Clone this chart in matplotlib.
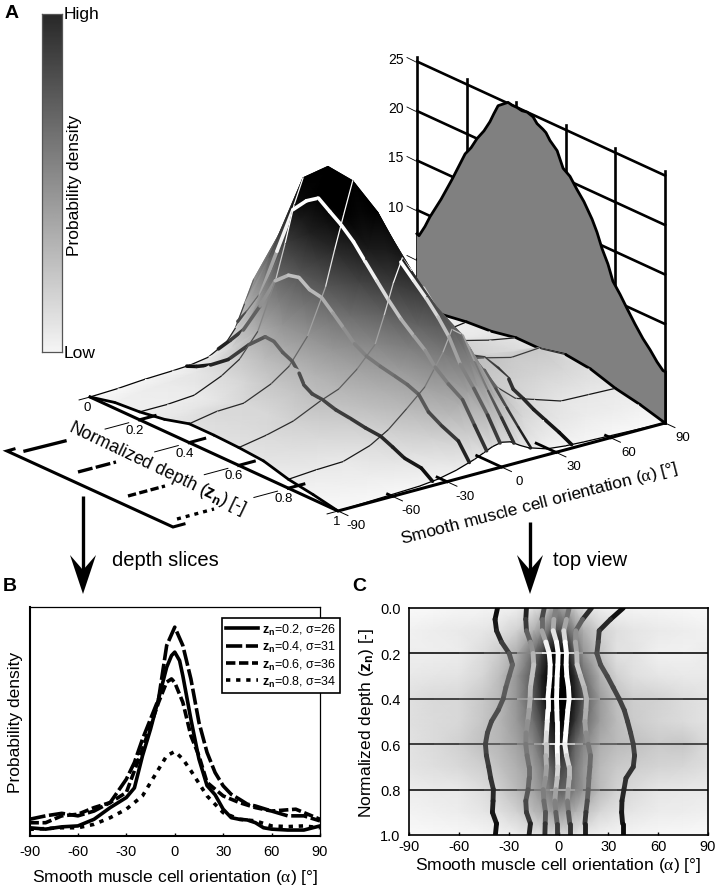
import numpy as np
import matplotlib
matplotlib.use("Agg")
import matplotlib.pyplot as plt
from matplotlib.collections import LineCollection
from matplotlib.colors import LinearSegmentedColormap, Normalize
from matplotlib.lines import Line2D

plt.rcParams["font.family"] = ["Liberation Sans", "DejaVu Sans"]
plt.rcParams["mathtext.fontset"] = "custom"
plt.rcParams["mathtext.rm"] = "Liberation Sans"
plt.rcParams["mathtext.bf"] = "Liberation Sans:bold"
plt.rcParams["mathtext.it"] = "Liberation Serif"

# ─── data ─────────────────────────────────────────────────────────────────────

depths = [0.0, 0.1, 0.2, 0.3, 0.4, 0.5, 0.6, 0.7, 0.8, 0.9, 1.0]
alphas = [-90, -75, -60, -45, -35, -25, -15, -10, -5, 0, 5, 10, 15, 25, 35, 45, 60, 75, 90]

# probability density surface, one row per depth
density = np.array([
    [0.0, 0.1, 0.3, 0.4, 0.5, 0.8, 1.8, 3.0, 5.2, 7.4, 6.0, 3.5, 2.0, 0.8, 0.5, 0.4, 0.3, 0.2, 0.0],
    [0.6, 0.9, 1.1, 1.4, 1.9, 3.0, 5.5, 7.5, 11.0, 13.0, 11.0, 8.0, 5.5, 3.0, 2.0, 1.5, 1.1, 0.9, 0.6],
    [0.8, 0.8, 1.0, 2.2, 3.4, 5.7, 10.5, 13.8, 17.5, 20.0, 17.0, 11.4, 7.5, 4.0, 1.8, 1.6, 0.7, 0.6, 1.0],
    [1.2, 1.4, 1.6, 2.7, 4.5, 7.5, 12.3, 16.0, 19.5, 22.3, 19.5, 15.0, 10.5, 5.5, 3.0, 2.0, 1.4, 1.2, 1.2],
    [1.9, 2.4, 2.5, 3.7, 5.0, 7.5, 12.0, 15.5, 18.8, 22.0, 20.0, 16.0, 12.0, 7.0, 4.2, 3.2, 2.9, 2.2, 1.7],
    [1.9, 2.3, 2.5, 3.9, 5.2, 7.2, 10.2, 13.3, 16.5, 20.0, 18.0, 14.5, 10.8, 6.8, 4.6, 3.4, 2.7, 2.3, 1.7],
    [1.8, 2.3, 3.0, 4.3, 5.0, 6.5, 8.5, 11.2, 14.2, 16.5, 15.0, 11.0, 8.6, 5.6, 4.6, 4.2, 3.5, 3.7, 2.3],
    [1.6, 2.0, 2.4, 3.2, 4.2, 5.5, 7.0, 9.0, 11.0, 13.8, 12.5, 9.7, 7.4, 4.8, 3.6, 3.2, 2.8, 2.6, 2.0],
    [0.9, 1.1, 1.2, 2.1, 3.2, 4.8, 6.5, 8.0, 9.5, 11.6, 10.9, 9.2, 7.4, 4.5, 2.9, 2.3, 1.4, 1.3, 1.2],
    [0.5, 0.7, 0.9, 1.4, 2.0, 3.0, 4.7, 5.6, 6.6, 7.0, 6.4, 5.3, 4.2, 2.6, 1.8, 1.4, 1.0, 0.9, 0.7],
    [0.0, 0.1, 0.2, 0.3, 0.5, 0.9, 1.5, 1.9, 2.3, 2.5, 2.3, 1.7, 1.2, 0.6, 0.4, 0.3, 0.2, 0.1, 0.0],
])

# depth profile drawn on the back wall
wall_depth = [0.0, 0.008, 0.032, 0.052, 0.097, 0.141, 0.194, 0.218, 0.242, 0.27, 0.294, 0.31,
              0.327, 0.347, 0.367, 0.383, 0.403, 0.423, 0.444, 0.468, 0.484, 0.508, 0.52, 0.536,
              0.565, 0.589, 0.617, 0.645, 0.673, 0.706, 0.726, 0.746, 0.77, 0.79, 0.819, 0.847,
              0.879, 0.911, 0.94, 0.968, 0.992, 1.0]
wall_value = [7.6, 7.5, 8.7, 9.9, 12.2, 14.7, 17.9, 18.8, 20.0, 21.1, 22.3, 23.3,
              24.3, 24.7, 25.1, 25.0, 25.0, 24.9, 25.0, 24.8, 24.3, 24.0, 23.8, 23.2,
              22.5, 21.0, 20.5, 19.5, 18.6, 17.2, 16.1, 14.7, 13.4, 11.9, 10.9, 9.8,
              8.6, 7.5, 6.7, 5.8, 5.2, 5.2]

# orientation lines: alpha along depth, same for panel A and panel C
line_depth = [0.0, 0.05, 0.1, 0.15, 0.2, 0.25, 0.3, 0.35, 0.4, 0.45, 0.5,
              0.55, 0.6, 0.65, 0.7, 0.75, 0.8, 0.85, 0.9, 0.95, 1.0]
line_alpha_1 = [-36.7, -38.2, -37.3, -34.3, -29.7, -27.7, -29.7, -31.7, -33.3, -36.3, -40.4,
                -42.8, -44.0, -43.4, -42.0, -40.8, -39.2, -39.4, -39.8, -37.3, -38.0]
line_alpha_2 = [-19.3, -19.7, -19.3, -16.9, -15.3, -14.9, -15.9, -16.9, -17.1, -17.7, -18.5,
                -19.5, -19.7, -18.9, -17.7, -17.7, -18.3, -19.7, -19.3, -16.9, -17.7]
line_alpha_3 = [-8.6, -10.0, -10.0, -7.6, -5.6, -5.0, -5.2, -5.8, -6.4, -6.4, -6.8,
                -7.2, -7.6, -7.6, -7.2, -7.8, -9.2, -8.8, -7.8, -8.0, -8.2]
line_alpha_4 = [-1.6, -2.8, -3.2, -1.2, -0.2, -0.4, -0.8, -1.0, -1.2, -1.0, -0.8,
                -0.8, -0.8, -0.6, -0.4, -0.8, -1.6, -2.2, -1.6, -0.8, -0.8]
line_alpha_5 = [6.4, 4.8, 3.2, 4.0, 4.8, 4.6, 5.0, 6.0, 6.4, 5.6, 5.0,
                4.4, 3.8, 4.8, 6.4, 6.4, 5.8, 5.4, 6.0, 6.8, 6.8]
line_alpha_6 = [19.9, 14.5, 10.4, 10.2, 11.0, 11.2, 13.3, 15.5, 16.9, 16.5, 15.9,
                16.5, 17.9, 19.3, 18.9, 18.3, 17.9, 17.3, 16.5, 15.9, 15.9]
line_alpha_7 = [39.0, 31.3, 24.5, 23.9, 23.1, 25.3, 29.3, 32.9, 36.5, 39.6, 41.6,
                43.4, 45.0, 45.8, 45.0, 40.6, 39.4, 38.2, 38.0, 38.6, 38.6]
orientation_lines = [line_alpha_1, line_alpha_2, line_alpha_3, line_alpha_4,
                     line_alpha_5, line_alpha_6, line_alpha_7]
# depth where each line comes out from behind the ridge in panel A
line_visible_from = [0.0, 0.0, 0.0, 0.6, 0.65, 0.6, 0.45]

# panel B slices
z02_x = [-90, -80, -70, -60, -50, -40, -30, -25, -20, -15, -10, -5, -2, 0, 3, 5, 10, 15, 20, 25,
         30, 35, 40, 45, 50, 55, 60, 70, 80, 90]
z02_y = [0.036, 0.03, 0.04, 0.044, 0.073, 0.124, 0.168, 0.21, 0.35, 0.467, 0.60, 0.737, 0.788,
         0.803, 0.766, 0.70, 0.51, 0.336, 0.22, 0.18, 0.117, 0.08, 0.073, 0.07, 0.058, 0.036,
         0.03, 0.026, 0.026, 0.044]
z04_x = [-90, -80, -70, -60, -50, -40, -30, -25, -20, -10, -5, 0, 5, 10, 15, 20, 25, 30, 35, 40,
         45, 50, 60, 70, 80, 90]
z04_y = [0.073, 0.088, 0.099, 0.088, 0.109, 0.146, 0.248, 0.321, 0.423, 0.599, 0.832, 0.912,
         0.832, 0.686, 0.496, 0.365, 0.277, 0.219, 0.182, 0.161, 0.139, 0.131, 0.109, 0.088,
         0.088, 0.066]
z06_x = [-90, -80, -70, -60, -50, -40, -30, -20, -10, -5, -2, 0, 5, 10, 15, 20, 30, 40, 50, 60,
         75, 90]
z06_y = [0.058, 0.058, 0.088, 0.095, 0.124, 0.146, 0.19, 0.38, 0.584, 0.672, 0.686, 0.67, 0.584,
         0.438, 0.35, 0.234, 0.175, 0.146, 0.124, 0.109, 0.117, 0.073]
z08_x = [-90, -70, -60, -50, -40, -30, -20, -10, -5, 0, 5, 10, 20, 30, 40, 50, 60, 70, 80, 90]
z08_y = [0.029, 0.036, 0.036, 0.051, 0.08, 0.117, 0.175, 0.292, 0.35, 0.369, 0.336, 0.285,
         0.175, 0.102, 0.073, 0.066, 0.044, 0.041, 0.044, 0.036]

angle_ticks = [-90, -60, -30, 0, 30, 60, 90]
depth_ticks = [0.2, 0.4, 0.6, 0.8]
wall_ticks = [5, 10, 15, 20, 25]
# how far each floor mark reaches under the depth = 1 edge
floor_marks = {-60: 0.02, -30: 0.04, 0: 0.10, 30: 0.08, 60: 0.02}

# ─── helpers ──────────────────────────────────────────────────────────────────

W, H = 719, 887
surface_cmap = LinearSegmentedColormap.from_list("surface", ["#f9f9f9", "#000000"])
surface_norm = Normalize(0, 18.5)
ink_norm = Normalize(0, 15.5)


def project(depth, alpha, z=0.0):
    """Oblique view of panel A, in figure pixels."""
    depth, alpha, z = np.asarray(depth), np.asarray(alpha), np.asarray(z)
    x = 90 + (alpha + 90) * 327 / 180 + depth * 248
    y = 398 - (alpha + 90) * 88 / 180 + depth * 114 - z * 9.9
    return x, y


def surface_height(depth, alpha):
    profile = [np.interp(alpha, alphas, row) for row in density]
    return np.interp(depth, depths, profile)


def ink(z):
    # lines are drawn inverted against the surface
    return plt.cm.gray(ink_norm(z))


def cell_zorder(depth, alpha):
    i = np.clip(np.searchsorted(depths, depth, side="right") - 1, 0, len(depths) - 2)
    j = np.clip(np.searchsorted(alphas, alpha, side="right") - 1, 0, len(alphas) - 2)
    return 10 + i * len(alphas) + (len(alphas) - 2 - j)


def panel_axes(fig, left, top, right, bottom):
    return fig.add_axes([left / W, 1 - bottom / H, (right - left) / W, (bottom - top) / H])


fig = plt.figure(figsize=(W / 100, H / 100), dpi=100)

# ─── Panel A ──────────────────────────────────────────────────────────────────

ax = fig.add_axes([0, 0, 1, 1])
ax.set_xlim(0, W)
ax.set_ylim(H, 0)
ax.axis("off")

# back wall
for v in wall_ticks:
    x, y = project([0, 1], [90, 90], [v, v])
    ax.plot(x, y, color="black", lw=1.9, zorder=2)
    ax.plot([x[0] - 10, x[0] - 2], [y[0] - 4, y[0]], color="black", lw=0.6, zorder=2)
    ax.text(x[0] - 21, y[0] - 3, str(v), ha="center", va="center", fontsize=10, zorder=2)
for d in [0.0] + depth_ticks + [1.0]:
    x, y = project([d, d], [90, 90], [0, 25.5])
    ax.plot(x, y, color="black", lw=1.9, zorder=2)
wx, wy = project(np.array(wall_depth), 90, np.array(wall_value))
bx, by = project(np.array(wall_depth), 90, 0)
ax.fill(np.r_[wx, bx[::-1]], np.r_[wy, by[::-1]], color="#808080", lw=0, zorder=3)
ax.plot(wx, wy, color="black", lw=2.0, zorder=4)
ex, ey = project([1, 1], [90, 90], [0, 5.2])
ax.plot(ex, ey, color="black", lw=1.9, zorder=4)

# surface, far cells first
Z = np.array(density)
for i in range(len(depths) - 1):
    for j in range(len(alphas) - 2, -1, -1):
        dd = np.array([[depths[i], depths[i]], [depths[i + 1], depths[i + 1]]])
        aa = np.array([[alphas[j], alphas[j + 1]], [alphas[j], alphas[j + 1]]])
        zz = Z[i:i + 2, j:j + 2]
        px, py = project(dd, aa, zz)
        ax.pcolormesh(px, py, zz, shading="gouraud", cmap=surface_cmap, norm=surface_norm,
                      zorder=cell_zorder(depths[i], alphas[j]), rasterized=True)

# constant depth lines
for d in [0.0] + depth_ticks + [1.0]:
    row = depths.index(d)
    px, py = project(d, np.array(alphas), Z[row])
    for j in range(len(alphas) - 1):
        zmid = (Z[row, j] + Z[row, j + 1]) / 2
        color = "black" if d == 1.0 else ink(zmid)
        order = cell_zorder(min(d, 0.99), alphas[j]) + 0.4
        ax.plot(px[j:j + 2], py[j:j + 2], color=color, lw=0.9, zorder=order,
                solid_capstyle="round")

# orientation lines over the surface
for curve, start in zip(orientation_lines, line_visible_from):
    hz = np.array([surface_height(d, a) for d, a in zip(line_depth, curve)])
    px, py = project(np.array(line_depth), np.array(curve), hz)
    for k in range(len(line_depth) - 1):
        if line_depth[k] < start:
            continue
        dm = (line_depth[k] + line_depth[k + 1]) / 2
        am = (curve[k] + curve[k + 1]) / 2
        ax.plot(px[k:k + 2], py[k:k + 2], color=ink((hz[k] + hz[k + 1]) / 2), lw=2.6,
                zorder=cell_zorder(dm, am) + 0.5, solid_capstyle="round")

# edges of the surface
for a in [-90, 90]:
    col = alphas.index(a)
    px, py = project(np.array(depths), a, Z[:, col])
    for i in range(len(depths) - 1):
        ax.plot(px[i:i + 2], py[i:i + 2], color="black", lw=2.0, solid_capstyle="round",
                zorder=cell_zorder(depths[i], a - 1 if a > 0 else a) + 0.6)

# floor frame
x, y = project([0, 1, 1], [-90, -90, 90])
ax.plot(x, y, color="black", lw=2.2, zorder=1001, solid_joinstyle="miter")
for d in depth_ticks:
    x, y = project([d, d], [-90, -81.5])
    ax.plot(x, y, color="black", lw=2.2, zorder=1001)
    x, y = project([d, d], [-109, -96])
    ax.plot(x, y, color="black", lw=0.7, zorder=1001)
    lx, ly = project(d, -90)
    ax.text(lx - 5, ly + 10, f"{d:.1f}", ha="center", va="center", fontsize=9.5, zorder=1001)
for a in angle_ticks:
    if a in floor_marks:
        x, y = project([1 - floor_marks[a], 1], [a, a])
        ax.plot(x, y, color="black", lw=2.0, zorder=1001)
    x, y = project([1, 1.04], [a, a])
    ax.plot(x, y, color="black", lw=0.7, zorder=1001)
    lx, ly = project(1, a)
    ax.text(lx + 18, ly + 14, str(a), ha="center", va="center", fontsize=9.5, zorder=1001)
x, y = project([0, 0], [-96, -90])
ax.plot(x, y, color="black", lw=0.7, zorder=1001)
x, y = project([1, 1], [-96, -90])
ax.plot(x, y, color="black", lw=0.7, zorder=1001)
lx, ly = project(0, -90)
ax.text(lx - 3, ly + 10, "0", ha="center", va="center", fontsize=9.5, zorder=1001)
lx, ly = project(1, -90)
ax.text(lx - 1, ly + 10, "1", ha="center", va="center", fontsize=9.5, zorder=1001)

ax.text(157, 468, r"Normalized depth ($\mathbf{z_n}$) [-]", rotation=-25.5, ha="center",
        va="center", rotation_mode="anchor", fontsize=12.8, zorder=1001)
ax.text(539, 504, r"Smooth muscle cell orientation ($\alpha$) [°]", rotation=14.5, ha="center",
        va="center", rotation_mode="anchor", fontsize=12.6, zorder=1001)

# depth slice key
ax.plot([173 + 11, 173, 7, 14], [525, 528, 452, 450], color="black", lw=2.2, zorder=1001,
        solid_joinstyle="miter")
ax.plot([25, 65], [452, 442], color="black", lw=2.4, zorder=1001)
ax.plot([78, 116], [473, 463], color="black", lw=2.4, ls=(0, (4.5, 1)), zorder=1001)
ax.plot([128, 165], [497, 487], color="black", lw=2.4, ls=(0, (2.5, 1)), zorder=1001)
ax.plot([177, 214], [520, 510], color="black", lw=2.4, ls=(0, (1.2, 1.5)), zorder=1001)

# arrows
for xc, y0 in [(83, 497), (530, 523)]:
    ax.plot([xc, xc], [y0, 575], color="black", lw=2.4, zorder=1001, solid_capstyle="butt")
    ax.fill([xc - 13, xc, xc + 13, xc], [556, 571, 556, 595], color="black", lw=0, zorder=1001)
ax.text(165, 561, "depth slices", ha="center", va="center", fontsize=14.5)
ax.text(590, 561, "top view", ha="center", va="center", fontsize=14.5)

# colour scale
cax = panel_axes(fig, 42, 15, 62, 353)
cax.imshow(np.linspace(0.16, 0.96, 256)[:, None], cmap="gray", vmin=0, vmax=1, aspect="auto")
cax.set_xticks([])
cax.set_yticks([])
for s in cax.spines.values():
    s.set_color("#555555")
    s.set_linewidth(0.9)
ax.text(64, 15, "High", ha="left", va="center", fontsize=12.5)
ax.text(64, 354, "Low", ha="left", va="center", fontsize=12.5)
ax.text(74, 185, "Probability density", rotation=90, ha="center", va="center", fontsize=12.5)

ax.text(5, 13, "A", ha="left", va="center", fontsize=14, fontweight="bold")
ax.text(3, 587, "B", ha="left", va="center", fontsize=14, fontweight="bold")
ax.text(352, 587, "C", ha="left", va="center", fontsize=14, fontweight="bold")

# ─── Panel B ──────────────────────────────────────────────────────────────────

ax_b = panel_axes(fig, 29.5, 608, 320, 837)
ax_b.set_xlim(-90, 90)
ax_b.set_ylim(0, 1)
ax_b.plot(z02_x, z02_y, color="black", lw=2.6)
ax_b.plot(z04_x, z04_y, color="black", lw=2.6, ls=(0, (4.5, 1)))
ax_b.plot(z06_x, z06_y, color="black", lw=2.6, ls=(0, (2.6, 1)))
ax_b.plot(z08_x, z08_y, color="black", lw=2.6, ls=(0, (1.2, 1.6)))
ax_b.set_xticks(angle_ticks)
ax_b.set_xticklabels([str(t) for t in angle_ticks], fontsize=10.5)
ax_b.set_yticks([])
ax_b.tick_params(axis="x", direction="in", length=2.5, width=1, pad=6)
ax_b.set_xlabel(r"Smooth muscle cell orientation ($\alpha$) [°]", fontsize=12.6, labelpad=6)
ax_b.set_ylabel("Probability density", fontsize=12.5, labelpad=5)
for s in ["left", "bottom"]:
    ax_b.spines[s].set_linewidth(1.5)
for s in ["top", "right"]:
    ax_b.spines[s].set_linewidth(0.9)
handles = [
    Line2D([], [], color="black", lw=2.6),
    Line2D([], [], color="black", lw=2.6, ls=(0, (4.5, 1))),
    Line2D([], [], color="black", lw=2.6, ls=(0, (2.6, 1))),
    Line2D([], [], color="black", lw=2.6, ls=(0, (1.2, 1.6))),
]
labels = [r"$\mathbf{z_n}$=0.2, σ=26", r"$\mathbf{z_n}$=0.4, σ=31",
          r"$\mathbf{z_n}$=0.6, σ=36", r"$\mathbf{z_n}$=0.8, σ=34"]
leg = ax_b.legend(handles, labels, loc="upper left", bbox_to_anchor=(0.663, 0.952), borderaxespad=0,
                  fontsize=9, fancybox=False, framealpha=1, edgecolor="black", labelspacing=0.18,
                  handlelength=2.6, handletextpad=0.3, borderpad=0.3)
leg.get_frame().set_linewidth(1.2)

# ─── Panel C ──────────────────────────────────────────────────────────────────

ax_c = panel_axes(fig, 409, 609, 708, 836)
ax_c.pcolormesh(alphas, depths, Z, shading="gouraud", cmap=surface_cmap, norm=surface_norm)
for d in depth_ticks:
    row = depths.index(d)
    segs = [[(alphas[j], d), (alphas[j + 1], d)] for j in range(len(alphas) - 1)]
    lc = LineCollection(segs, cmap="gray", norm=ink_norm, linewidths=1.2)
    lc.set_array((Z[row, :-1] + Z[row, 1:]) / 2)
    ax_c.add_collection(lc)
for curve in orientation_lines:
    hz = np.array([surface_height(d, a) for d, a in zip(line_depth, curve)])
    segs = [[(curve[k], line_depth[k]), (curve[k + 1], line_depth[k + 1])]
            for k in range(len(line_depth) - 1)]
    lc = LineCollection(segs, cmap="gray", norm=ink_norm, linewidths=3.5, capstyle="round")
    lc.set_array((hz[:-1] + hz[1:]) / 2)
    ax_c.add_collection(lc)
ax_c.set_xlim(-90, 90)
ax_c.set_ylim(1, 0)
ax_c.set_xticks(angle_ticks)
ax_c.set_xticklabels([str(t) for t in angle_ticks], fontsize=10.5)
ax_c.set_yticks([0, 0.2, 0.4, 0.6, 0.8, 1.0])
ax_c.set_yticklabels(["0.0", "0.2", "0.4", "0.6", "0.8", "1.0"], fontsize=10.5)
ax_c.tick_params(axis="x", direction="in", length=2, width=1, pad=3)
ax_c.tick_params(axis="y", direction="in", length=0, pad=6)
ax_c.set_xlabel(r"Smooth muscle cell orientation ($\alpha$) [°]", fontsize=12.6, labelpad=1)
ax_c.set_ylabel(r"Normalized depth ($\mathbf{z_n}$) [-]", fontsize=12.5, labelpad=3)
for s in ax_c.spines.values():
    s.set_linewidth(1.2)

fig.savefig("out.png", dpi=100)
